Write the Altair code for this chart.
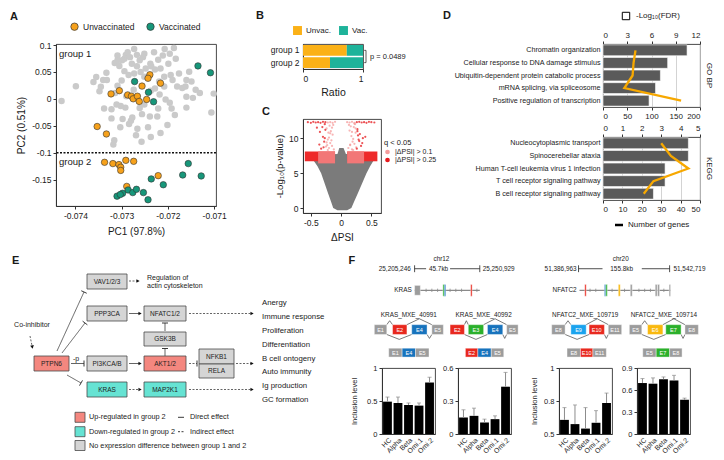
import math
import altair as alt
import pandas as pd

FONT = "Liberation Sans"
INK = "#1a1a1a"

A_ORANGE, A_GREEN, A_GRAY = "#F6A11B", "#17977A", "#CACACA"
B_ORANGE, B_TEAL = "#FBB117", "#1EB39A"
C_GRAY, C_LIGHT, C_DARK, C_BAND_LIGHT, C_BAND_DARK = "#7b7b7b", "#F59C9C", "#E6191D", "#F27777", "#EE2A2A"
D_BAR, D_LINE = "#5a5a5a", "#F7A800"
E_UP, E_DOWN, E_NONE = "#F4877F", "#66E3D3", "#D5D5D5"
F_GRAY, F_RED, F_BLUE, F_GREEN, F_SKY, F_YELLOW = "#9C9C9C", "#E8281E", "#1773BD", "#2BB02B", "#1AA3EE", "#F9B90F"

# ---------------- Panel A : PCA ----------------
a_gray_pc1 = [-0.07430, -0.07399, -0.07361, -0.07355, -0.07345, -0.07340, -0.07333, -0.07315, -0.07309, -0.07305,
              -0.07299, -0.07294, -0.07291, -0.07287, -0.07282, -0.07278, -0.07273, -0.07267, -0.07261, -0.07251,
              -0.07238, -0.07236, -0.07228, -0.07221, -0.07211, -0.07207, -0.07196, -0.07187, -0.07183, -0.07199,
              -0.07194, -0.07190, -0.07180, -0.07160, -0.07162, -0.07149, -0.07140, -0.07169, -0.07208, -0.07219,
              -0.07205, -0.07196, -0.07160, -0.07146, -0.07101, -0.07160, -0.07106, -0.07185, -0.07223, -0.07201,
              -0.07216, -0.07243, -0.07266, -0.07269, -0.07280, -0.07284, -0.07277, -0.07298, -0.07322, -0.07316,
              -0.07318, -0.07303, -0.07292, -0.07302, -0.07311, -0.07338, -0.07322, -0.07257, -0.07237, -0.07221,
              -0.07300, -0.07309, -0.07314, -0.07259, -0.07251, -0.07273, -0.07285, -0.07294, -0.07237, -0.07228,
              -0.07208, -0.07218, -0.07192, -0.07256, -0.07239, -0.07261, -0.07251, -0.07290, -0.07274, -0.07248,
              -0.07230, -0.07309, -0.07332, -0.07348, -0.07254, -0.07216, -0.07176, -0.07154, -0.07131, -0.07267]
a_gray_pc2 = [-0.0041, 0.0237, 0.0316, 0.0407, 0.0225, 0.0352, 0.0485, 0.0667, 0.0806, 0.0613,
              0.0716, 0.0746, 0.0818, 0.0867, 0.0776, 0.0655, 0.0927, 0.0818, 0.0716, 0.0837,
              0.0655, 0.0607, 0.0546, 0.0728, 0.0806, 0.0927, 0.0837, 0.0946, 0.0746, 0.0655,
              0.0443, 0.0352, 0.0231, 0.0352, 0.0231, 0.0322, 0.0171, 0.0201, 0.0231, 0.0322,
              -0.0011, -0.0071, 0.0038, 0.0019, 0.0098, -0.0162, -0.0253, -0.0301, -0.0326, -0.0483,
              -0.0634, -0.0525, -0.0556, -0.0677, -0.0404, -0.0465, -0.0344, -0.0374, -0.0362, -0.0768,
              -0.0846, -0.0525, -0.0162, -0.0132, -0.0102, -0.0180, -0.0192, -0.0798, -0.0707, -0.0180,
              0.0340, 0.0243, 0.0110, 0.0498, 0.0413, 0.0473, 0.0443, 0.0516, 0.0153, 0.0195,
              0.0413, 0.0080, -0.0180, -0.0283, -0.0326, -0.0168, -0.0102, 0.0050, 0.0171, 0.0564,
              0.0867, 0.0716, 0.0352, 0.0140, 0.0776, 0.0564, 0.0473, 0.0504, 0.0110, 0.0607]
a_unvac_pc1 = [-0.07239, -0.07243, -0.07216, -0.07256, -0.07323, -0.07305, -0.07287, -0.07279, -0.07275, -0.07266,
               -0.07262, -0.07246, -0.07353, -0.07333, -0.07337, -0.07319, -0.07306, -0.07302, -0.07291, -0.07274,
               -0.07302, -0.07221, -0.07289]
a_unvac_pc2 = [0.0449, 0.0383, 0.0292, 0.0238, 0.0093, 0.0153, 0.0074, 0.0050, 0.0002, 0.0050,
               -0.0047, -0.0010, -0.0513, -0.0652, -0.1178, -0.1202, -0.1220, -0.1269, -0.1142, -0.1160,
               -0.1329, -0.1426, -0.1626]
a_vac_pc1 = [-0.07272, -0.07242, -0.07231, -0.07135, -0.07108, -0.07156, -0.07168, -0.07128, -0.07236, -0.07210,
             -0.07310, -0.07298, -0.07286, -0.07276, -0.07268, -0.07253, -0.07243, -0.07303]
a_vac_pc2 = [0.0322, 0.0123, -0.0053, 0.0613, 0.0486, -0.1202, -0.1414, -0.1432, -0.1487, -0.1595,
             -0.1807, -0.1753, -0.1692, -0.1741, -0.1680, -0.1741, -0.1874, -0.1777]
a_threshold = -0.1

# ---------------- Panel B : ratio ----------------
b_groups = ["group 1", "group 2"]
b_unvac = [0.73, 0.45]
b_vac = [0.27, 0.55]
b_ptext = "p = 0.0489"

# ---------------- Panel C : volcano ----------------
c_env_logp = [-0.3, 0, 1, 2, 3, 4, 5, 6, 7, 7.6, 7.75, 8.6]
c_env_left = [-0.06, -0.13, -0.17, -0.21, -0.25, -0.29, -0.33, -0.39, -0.47, -0.55, -0.06, -0.03]
c_env_right = [0.10, 0.17, 0.22, 0.27, 0.32, 0.37, 0.42, 0.48, 0.55, 0.58, 0.08, 0.04]
c_band_x0 = [-0.60, 0.10, -0.38, 0.10]
c_band_x1 = [-0.10, 0.60, -0.10, 0.38]
c_band_y0 = [6.7, 6.7, 6.4, 6.4]
c_band_y1 = [8.1, 8.1, 8.1, 8.1]
c_band_kind = ["dark", "dark", "light", "light"]
c_sig_dpsi = [-0.12, -0.15, -0.18, -0.20, -0.22, -0.25, -0.28, -0.30, -0.33, -0.36, -0.14, -0.17, -0.21, -0.24, -0.27,
              -0.19, -0.23, -0.16, -0.26, -0.31, -0.13, -0.20, -0.29, -0.18, -0.24, -0.35, -0.40, -0.15, -0.22, -0.27,
              0.12, 0.15, 0.18, 0.20, 0.22, 0.25, 0.28, 0.30, 0.33, 0.36, 0.14, 0.17, 0.21, 0.24, 0.27,
              0.19, 0.23, 0.16, 0.26, 0.31, 0.13, 0.20, 0.29, 0.18, 0.24, 0.35, 0.40, 0.15, 0.22, 0.27,
              -0.55, -0.50, -0.46, -0.42, -0.38, -0.34, -0.30, -0.26, -0.22, -0.18, -0.14, -0.10,
              0.10, 0.14, 0.18, 0.22, 0.26, 0.30, 0.34, 0.38, 0.42, 0.46, 0.50, 0.55]
c_sig_logp = [8.4, 8.9, 9.3, 8.6, 9.8, 8.8, 9.5, 10.2, 8.5, 9.1, 10.5, 11.0, 10.8, 11.4, 10.0,
              11.8, 9.0, 9.7, 11.2, 11.6, 11.9, 10.1, 8.7, 10.7, 9.4, 10.9, 11.5, 11.5, 8.3, 12.0,
              8.6, 9.1, 8.4, 9.9, 9.2, 8.7, 10.4, 9.6, 8.9, 10.0, 11.1, 10.3, 11.6, 10.8, 11.3,
              9.5, 12.0, 11.7, 8.5, 10.6, 11.9, 8.3, 9.8, 10.9, 11.4, 9.3, 10.2, 9.0, 12.1, 11.0,
              12.3, 12.2, 12.35, 12.25, 12.3, 12.2, 12.35, 12.3, 12.25, 12.3, 12.2, 12.35,
              12.3, 12.25, 12.35, 12.2, 12.3, 12.35, 12.25, 12.3, 12.2, 12.35, 12.3, 12.25]

# ---------------- Panel D : enrichment ----------------
d_go_terms = ["Chromatin organization", "Cellular response to DNA damage stimulus",
              "Ubiquitin-dependent protein catabolic process", "mRNA splicing, via spliceosome",
              "Positive regulation of transcription"]
d_go_fdr = [10.4, 8.0, 7.1, 6.5, 5.7]
d_go_genes = [67, 63, 61, 44, 161]
d_kegg_terms = ["Nucleocytoplasmic transport", "Spinocerebellar ataxia", "Human T-cell leukemia virus 1 infection",
                "T cell receptor signaling pathway", "B cell receptor signaling pathway"]
d_kegg_fdr = [4.4, 4.4, 3.2, 3.2, 2.6]
d_kegg_genes = [30, 35, 44, 26, 21]

# ---------------- Panel E : pathway diagram (layout table) ----------------
e_node_name = ["VAV1/2/3", "PPP3CA", "NFATC1/2", "GSK3B", "PTPN6", "PI3KCA/B", "AKT1/2", "NFKB1", "RELA", "KRAS", "MAP2K1"]
e_node_state = ["none", "none", "none", "none", "up", "none", "up", "none", "none", "down", "down"]
e_node_x0 = [79, 79, 136, 136, 26, 79, 136, 191, 191, 79, 136]
e_node_x1 = [119, 119, 178, 178, 61, 119, 178, 226, 226, 119, 178]
e_node_y0 = [271, 303, 303, 329, 353, 353, 353, 346, 361, 379, 379]
e_node_y1 = [286, 318, 318, 343, 368, 368, 368, 361, 375, 394, 394]
e_edge_x1 = [121, 121, 181, 63, 121, 181, 228, 121, 181, 49, 54, 59, 22, 157, 157]
e_edge_y1 = [278, 310.5, 310.5, 360.5, 360.5, 360.5, 360.5, 386.5, 386.5, 348, 350, 372, 333, 353, 328]
e_edge_x2 = [131, 133, 245, 76, 133, 189, 245, 133, 245, 76, 77, 73, 24.5, 157, 157]
e_edge_y2 = [278, 310.5, 310.5, 360.5, 360.5, 360.5, 360.5, 386.5, 386.5, 289, 320, 380, 345, 345.5, 320]
e_edge_style = ["dashed", "solid", "dashed", "solid", "solid", "dashed", "dashed", "dashed", "dashed",
                "solid", "solid", "solid", "dashed", "solid", "solid"]
e_edge_head = ["arrow", "arrow", "arrow", "bar", "arrow", "bar", "arrow", "arrow", "arrow",
               "bar", "bar", "bar", "arrow", "bar", "bar"]
e_out_label = ["Anergy", "Immune response", "Proliferation", "Differentiation", "B cell ontogeny",
               "Auto immunity", "Ig production", "GC formation"]
e_out_y = [300, 314, 327.7, 341.7, 355.7, 369.3, 383.3, 397]
e_txt_label = ["-p", "Co-inhibitor", "Regulation of", "actin cytoskeleton"]
e_txt_x = [68, 24, 139, 139]
e_txt_y = [355.5, 322, 275, 283]
e_leg_state = ["up", "down", "none"]
e_leg_label = ["Up-regulated in group 2", "Down-regulated in group 2", "No expression difference between group 1 and 2"]
e_leg_y = [414.3, 428.7, 442.5]
e_eff_label = ["Direct effect", "Indirect effect"]
e_eff_style = ["solid", "dashed"]
e_eff_y = [414.3, 428.7]

# ---------------- Panel F : gene structures (layout table) ----------------
f_text_label = ["chr12", "25,205,246", "45.7kb", "25,250,929", "KRAS", "chr20", "51,386,963", "155.8kb",
                "51,542,719", "NFATC2", "KRAS_MXE_40991", "KRAS_MXE_40992", "NFATC2_MXE_109719", "NFATC2_MXE_109714"]
f_text_x = [449, 417, 446, 492, 418, 636, 590, 637, 691, 590, 415, 493, 599, 681]
f_text_y = [261, 271, 271, 271, 293, 261, 271, 271, 271, 293, 318, 318, 318, 318]
f_text_align = ["center", "right", "center", "left", "right", "center", "right", "center", "left", "right",
                "center", "center", "center", "center"]
f_scale_x1 = [421, 458, 592, 658]
f_scale_x2 = [433, 489, 617, 687]
f_scale_end = [421, 489, 592, 687]
f_gene_x1 = [421, 593]
f_gene_x2 = [489, 688]
f_intron_x = [433, 439, 445, 458, 464, 470, 486, 604, 610, 627, 640, 655, 661, 667, 681]
f_mark_x0 = [421, 450.5, 452, 479.5, 598.5, 619, 620.5, 633.5, 646, 672, 674.5, 686.5]
f_mark_x1 = [427, 452, 453.5, 481, 600, 620.5, 622, 635.5, 648, 674, 676.5, 688]
f_mark_col = [F_GRAY, F_GREEN, F_BLUE, F_RED, F_RED, F_BLUE, F_GREEN, F_YELLOW, F_GRAY, F_GRAY, F_GRAY, F_GRAY]
f_exon_event = [1, 1, 1, 1, 2, 2, 2, 2, 3, 3, 3, 3, 4, 4, 4, 4,
                1, 1, 1, 2, 2, 2, 3, 3, 3, 4, 4, 4]
f_exon_row = ["big"] * 16 + ["small"] * 12
f_exon_label = ["E1", "E2", "E4", "E5", "E2", "E3", "E4", "E5", "E8", "E9", "E10", "E11", "E5", "E6", "E7", "E8",
                "E1", "E4", "E5", "E2", "E4", "E5", "E8", "E10", "E11", "E5", "E7", "E8"]
f_exon_col = [F_GRAY, F_RED, F_BLUE, F_GRAY, F_RED, F_GREEN, F_BLUE, F_GRAY, F_GRAY, F_SKY, F_RED, F_GRAY,
              F_GRAY, F_YELLOW, F_GREEN, F_GRAY,
              F_GRAY, F_BLUE, F_GRAY, F_RED, F_BLUE, F_GRAY, F_GRAY, F_RED, F_GRAY, F_GRAY, F_GREEN, F_GRAY]
f_exon_x0 = [379, 398, 418, 439, 458, 477, 497, 517, 564, 584, 603, 623, 645, 664, 683, 703,
             394, 408, 422, 474, 487, 501, 580, 594, 607, 659, 673, 687]
f_exon_x1 = [392, 413, 434, 451, 473, 493, 513, 529, 578, 600, 619, 637, 658, 680, 699, 717,
             408, 422, 436, 487, 501, 514, 594, 607, 621, 673, 687, 700]

# ---------------- Panel F : inclusion levels ----------------
f_conds = ["HC", "Alpha", "Beta", "Omi.1", "Omi.2"]
f_ev1_mean = [0.49, 0.47, 0.44, 0.43, 0.78]
f_ev1_sd = [0.07, 0.09, 0.03, 0.04, 0.08]
f_ev2_mean = [0.15, 0.165, 0.105, 0.135, 0.43]
f_ev2_sd = [0.07, 0.07, 0.03, 0.03, 0.13]
f_ev3_mean = [0.607, 0.575, 0.541, 0.585, 0.735]
f_ev3_sd = [0.093, 0.145, 0.159, 0.092, 0.075]
f_ev4_mean = [0.695, 0.686, 0.747, 0.73, 0.467]
f_ev4_sd = [0.061, 0.079, 0.031, 0.07, 0.022]

MINUS_FIX = "replace(datum.label, '\u2212', '-')"


def label(txt, x, y, size=8.0, align="left", baseline="middle", weight="normal", angle=0, color=INK, style="normal"):
    kw = dict(align=align, baseline=baseline, fontSize=size, fontWeight=weight, color=color, font=FONT)
    if angle:
        kw["angle"] = angle
    if style != "normal":
        kw["fontStyle"] = style
    return alt.Chart(pd.DataFrame({"t": [txt]})).mark_text(**kw).encode(
        x=alt.value(x), y=alt.value(y), text="t:N")


# ======================= Panel A =======================
AW, AH = 160, 162
dfa_gray = pd.DataFrame(list(zip(a_gray_pc1, a_gray_pc2)), columns=["pc1", "pc2"])
dfa_col = pd.DataFrame(
    list(zip(a_unvac_pc1, a_unvac_pc2, ["Unvaccinated"] * len(a_unvac_pc1))) +
    list(zip(a_vac_pc1, a_vac_pc2, ["Vaccinated"] * len(a_vac_pc1))), columns=["pc1", "pc2", "status"])
xA = alt.X("pc1:Q", title="PC1 (97.8%)", scale=alt.Scale(domain=[-0.07442, -0.07096], nice=False, zero=False),
           axis=alt.Axis(values=[-0.074, -0.073, -0.072, -0.071], format=".3f", labelExpr=MINUS_FIX,
                         titlePadding=7, labelFontSize=8.5, titleFontSize=10))
yA = alt.Y("pc2:Q", title="PC2 (0.51%)", scale=alt.Scale(domain=[-0.199, 0.102], nice=False, zero=False),
           axis=alt.Axis(values=[0.1, 0.05, 0, -0.05, -0.1, -0.15], format="~g", labelExpr=MINUS_FIX,
                         titlePadding=5, labelFontSize=8.5, titleFontSize=10))
a_gray = alt.Chart(dfa_gray).mark_circle(size=42, color=A_GRAY, opacity=1).encode(x=xA, y=yA)
a_rule = alt.Chart(pd.DataFrame({"pc2": [a_threshold]})).mark_rule(
    strokeDash=[2, 1.5], strokeWidth=1.4, color="#111").encode(y=yA)
a_col = alt.Chart(dfa_col).mark_point(filled=True, size=42, stroke="#333", strokeWidth=0.6, opacity=1).encode(
    x=xA, y=yA,
    fill=alt.Fill("status:N", scale=alt.Scale(domain=["Unvaccinated", "Vaccinated"], range=[A_ORANGE, A_GREEN]),
                  legend=alt.Legend(title=None, orient="none", legendX=14, legendY=-22, direction="horizontal",
                                    symbolType="circle", symbolSize=55, symbolStrokeColor="#333",
                                    symbolStrokeWidth=0.7, labelFontSize=8.5, columnPadding=10)))
chartA = alt.layer(
    a_gray, a_rule, a_col,
    label("group 1", 3, 10, size=9.5),
    label("group 2", 3, 118, size=9.5),
    label("A", -46, -27, size=11, weight="bold"),
).properties(width=AW, height=AH)

# ======================= Panel B =======================
BW, BH = 60, 25
dfb = pd.DataFrame({"group": b_groups + b_groups, "status": ["Unvac."] * 2 + ["Vac."] * 2,
                    "ratio": b_unvac + b_vac, "ord": [0, 0, 1, 1]})
yB = alt.Y("group:N", sort=b_groups, title=None, scale=alt.Scale(paddingInner=0.12, paddingOuter=0.08),
           axis=alt.Axis(ticks=False, labelFontSize=8.5, labelPadding=4))
b_bars = alt.Chart(dfb).mark_bar().encode(
    y=yB,
    x=alt.X("ratio:Q", stack="zero", title="Ratio", scale=alt.Scale(domain=[0, 1], nice=False),
            axis=alt.Axis(values=[0, 0.25, 0.5, 0.75, 1], format="~g",
                          labelExpr="(datum.value == 0.25 || datum.value == 0.75) ? '' : datum.label",
                          titleFontSize=10.5, labelFontSize=8.5, titlePadding=5)),
    fill=alt.Fill("status:N", scale=alt.Scale(domain=["Unvac.", "Vac."], range=[B_ORANGE, B_TEAL]),
                  legend=alt.Legend(title=None, orient="none", legendX=-10, legendY=-18, direction="horizontal",
                                    symbolType="square", symbolSize=80, labelFontSize=8, columnPadding=8,
                                    symbolStrokeWidth=0)),
    order=alt.Order("ord:Q"))
dfbr = pd.DataFrame({"group": b_groups, "x0": [1.02, 1.02], "x1": [1.05, 1.05]})
b_ticks = alt.Chart(dfbr).mark_rule(color="#333", strokeWidth=0.8).encode(x="x0:Q", x2="x1:Q", y=yB)
b_vert = alt.Chart(dfbr).mark_line(color="#333", strokeWidth=0.8).encode(x="x1:Q", y=yB)
chartB = alt.layer(
    b_bars, b_ticks, b_vert,
    label(b_ptext, BW + 7, BH / 2, size=7.5),
    label("B", -47, -28, size=11, weight="bold"),
).properties(width=BW, height=BH)

# ======================= Panel C =======================
CW, CH = 78, 94
xsc_C = alt.Scale(domain=[-0.63, 0.66], nice=False, zero=False)
ysc_C = alt.Scale(domain=[-0.7, 12.75], nice=False, zero=False)
xax_C = alt.Axis(values=[-0.5, 0, 0.5], format="~g", labelExpr=MINUS_FIX, titleFontSize=10, labelFontSize=8.5,
                 titlePadding=6)
yax_C = alt.Axis(values=[0, 5, 10], titleFontSize=9.5, labelFontSize=8.5, titlePadding=4)


def xC(f):
    return alt.X(f, title="\u0394PSI", scale=xsc_C, axis=xax_C)


def yC(f):
    return alt.Y(f, title="-Log\u2081\u2080(p-value)", scale=ysc_C, axis=yax_C)


dfc_env = pd.DataFrame(list(zip(c_env_logp, c_env_left, c_env_right)), columns=["lp", "lo", "hi"])
dfc_band = pd.DataFrame({"x0": c_band_x0, "x1": c_band_x1, "y0": c_band_y0, "y1": c_band_y1, "kind": c_band_kind})
dfc_sig = pd.DataFrame(list(zip(c_sig_dpsi, c_sig_logp)), columns=["dpsi", "lp"])
dfc_sig["cat"] = ["|\u0394PSI| > 0.25" if abs(v) > 0.25 else "|\u0394PSI| > 0.1" for v in dfc_sig["dpsi"]]
c_env = alt.Chart(dfc_env).mark_area(color=C_GRAY, orient="horizontal", opacity=1).encode(
    y=yC("lp:Q"), x=xC("lo:Q"), x2="hi:Q")
c_band_d = alt.Chart(dfc_band).transform_filter(alt.datum.kind == "dark").mark_rect(color=C_BAND_DARK).encode(
    x=xC("x0:Q"), x2="x1:Q", y=yC("y0:Q"), y2="y1:Q")
c_band_l = alt.Chart(dfc_band).transform_filter(alt.datum.kind == "light").mark_rect(color=C_BAND_LIGHT).encode(
    x=xC("x0:Q"), x2="x1:Q", y=yC("y0:Q"), y2="y1:Q")
c_pts = alt.Chart(dfc_sig).mark_circle(size=5, opacity=0.75).encode(
    x=xC("dpsi:Q"), y=yC("lp:Q"),
    color=alt.Color("cat:N", scale=alt.Scale(domain=["|\u0394PSI| > 0.1", "|\u0394PSI| > 0.25"],
                                             range=[C_LIGHT, C_DARK]),
                    legend=alt.Legend(title="q < 0.05", orient="none", legendX=CW + 3, legendY=20,
                                      symbolType="circle", symbolSize=22, symbolOpacity=1, labelFontSize=7,
                                      titleFontSize=7.5, titleFontWeight="normal", rowPadding=0, titlePadding=2)))
chartC = alt.layer(
    c_env, c_band_d, c_band_l, c_pts,
    label("C", -41, -7, size=11, weight="bold"),
).properties(width=CW, height=CH)

# ======================= Panel D =======================
DW, DH = 97, 63


def panel_d(terms, fdr, genes, fdr_dom, fdr_ticks, gene_dom, gene_ticks, side, extras):
    df = pd.DataFrame({"term": terms, "fdr": fdr, "genes": genes, "idx": list(range(len(terms)))})
    yD = alt.Y("term:N", sort=terms, title=None, scale=alt.Scale(paddingInner=0.14, paddingOuter=0.07),
               axis=alt.Axis(ticks=False, labelFontSize=7.2, labelPadding=3, labelLimit=260, domain=False))
    bars = alt.Chart(df).mark_bar(color=D_BAR, stroke="white", strokeWidth=0.6).encode(
        x=alt.X("fdr:Q", title=None, scale=alt.Scale(domain=fdr_dom, nice=False),
                axis=alt.Axis(orient="top", values=fdr_ticks, grid=True, gridColor="#c8c8c8", gridWidth=0.8,
                              labelFontSize=8, domain=False)),
        y=yD)
    line = alt.Chart(df).mark_line(color=D_LINE, strokeWidth=2.3).encode(
        x=alt.X("genes:Q", title=None, scale=alt.Scale(domain=gene_dom, nice=False),
                axis=alt.Axis(orient="bottom", values=gene_ticks, grid=False, labelFontSize=8, domain=False)),
        y=yD, order=alt.Order("idx:Q"))
    layers = [bars, line, label(side, DW + 9, DH / 2, size=8, align="center", angle=90)] + extras
    return alt.layer(*layers).resolve_scale(x="independent").properties(width=DW, height=DH)


d_sq = alt.Chart(pd.DataFrame({"t": ["sq"]})).mark_point(
    shape="square", fill="white", stroke="black", strokeWidth=1, size=55, opacity=1, filled=False).encode(
    x=alt.value(23), y=alt.value(-28))
chartD1 = panel_d(d_go_terms, d_go_fdr, d_go_genes, [0, 12], [0, 3, 6, 9, 12], [0, 200], [0, 50, 100, 150, 200],
                  "GO  BP",
                  [d_sq, label("-Log\u2081\u2080(FDR)", 33, -28, size=8),
                   label("D", -160, -28, size=11, weight="bold")])
d_ln = alt.Chart(pd.DataFrame({"t": ["ln"]})).mark_rule(color="black", strokeWidth=2.5).encode(
    x=alt.value(12), x2=alt.value(20), y=alt.value(DH + 25))
chartD2 = panel_d(d_kegg_terms, d_kegg_fdr, d_kegg_genes, [0, 5], [0, 1, 2, 3, 4, 5], [0, 50],
                  [0, 10, 20, 30, 40, 50], "KEGG",
                  [d_ln, label("Number of genes", 25, DH + 25, size=8)])

# ======================= Panel E =======================
# plot origin sits at x=48 of the diagram so the row's left edge lines up with panel A's origin
EX0, EX1, EY0, EY1 = 48, 334, 251, 449
EW, EH = EX1 - EX0, EY1 - EY0
esx = alt.Scale(domain=[EX0, EX1], nice=False, zero=False)
esy = alt.Scale(domain=[EY0, EY1], nice=False, zero=False, reverse=True)


def xE(f):
    return alt.X(f, scale=esx, axis=None)


def yE(f):
    return alt.Y(f, scale=esy, axis=None)


dash_enc = alt.StrokeDash("style:N", scale=alt.Scale(domain=["solid", "dashed"], range=[[1, 0], [2, 1.5]]),
                          legend=None)
state_fill = alt.Fill("state:N", scale=alt.Scale(domain=["up", "down", "none"], range=[E_UP, E_DOWN, E_NONE]),
                      legend=None)

edges = pd.DataFrame({"x1": e_edge_x1, "y1": e_edge_y1, "x2": e_edge_x2, "y2": e_edge_y2,
                      "style": e_edge_style, "head": e_edge_head})
ln_ = ((edges.x2 - edges.x1) ** 2 + (edges.y2 - edges.y1) ** 2) ** 0.5
edges["ux"] = (edges.x2 - edges.x1) / ln_
edges["uy"] = (edges.y2 - edges.y1) / ln_
edges["ang"] = [math.degrees(math.atan2(u, -v)) % 360 for u, v in zip(edges.ux, edges.uy)]
edges["ax"] = edges.x2 - edges.ux * 1.5
edges["ay"] = edges.y2 - edges.uy * 1.5
edges["bx1"] = edges.x2 - edges.uy * 3
edges["by1"] = edges.y2 + edges.ux * 3
edges["bx2"] = edges.x2 + edges.uy * 3
edges["by2"] = edges.y2 - edges.ux * 3

nodes = pd.DataFrame({"name": e_node_name, "state": e_node_state, "x0": e_node_x0, "x1": e_node_x1,
                      "y0": e_node_y0, "y1": e_node_y1})
nodes["cx"] = (nodes.x0 + nodes.x1) / 2
nodes["cy"] = (nodes.y0 + nodes.y1) / 2
e_misc = pd.DataFrame({"t": e_txt_label, "x": e_txt_x, "y": e_txt_y})
e_out = pd.DataFrame({"t": e_out_label, "y": e_out_y})
e_out["x"] = 254
e_leg = pd.DataFrame({"state": e_leg_state, "t": e_leg_label, "y": e_leg_y})
e_leg["y0"] = e_leg.y - 5
e_leg["y1"] = e_leg.y + 5
e_leg["x0"] = 67
e_leg["x1"] = 77
e_leg["tx"] = 81
e_eff = pd.DataFrame({"t": e_eff_label, "style": e_eff_style, "y": e_eff_y})
e_eff["x0"] = 170
e_eff["x1"] = 176
e_eff["tx"] = 182

e_layers = [
    alt.Chart(edges).mark_rule(color="#222", strokeWidth=0.7).encode(
        x=xE("x1:Q"), y=yE("y1:Q"), x2="x2:Q", y2="y2:Q", strokeDash=dash_enc),
    alt.Chart(edges).transform_filter(alt.datum.head == "bar").mark_rule(color="#222", strokeWidth=0.9).encode(
        x=xE("bx1:Q"), y=yE("by1:Q"), x2="bx2:Q", y2="by2:Q"),
    alt.Chart(edges).transform_filter(alt.datum.head == "arrow").mark_point(
        shape="triangle", filled=True, color="#111", size=14, opacity=1).encode(
        x=xE("ax:Q"), y=yE("ay:Q"), angle=alt.Angle("ang:Q", scale=None)),
    alt.Chart(nodes).mark_rect(stroke="#4a4a4a", strokeWidth=0.8).encode(
        x=xE("x0:Q"), x2="x1:Q", y=yE("y0:Q"), y2="y1:Q", fill=state_fill),
    alt.Chart(nodes).mark_text(fontSize=6.5, color="#222", font=FONT).encode(
        x=xE("cx:Q"), y=yE("cy:Q"), text="name:N"),
    alt.Chart(e_misc).transform_filter(alt.datum.x < 100).mark_text(fontSize=7, color="#222", font=FONT).encode(
        x=xE("x:Q"), y=yE("y:Q"), text="t:N"),
    alt.Chart(e_misc).transform_filter(alt.datum.x > 100).mark_text(fontSize=7, color="#222", font=FONT,
                                                                    align="left").encode(
        x=xE("x:Q"), y=yE("y:Q"), text="t:N"),
    alt.Chart(e_out).mark_text(fontSize=7.8, color="#222", font=FONT, align="left").encode(
        x=xE("x:Q"), y=yE("y:Q"), text="t:N"),
    alt.Chart(e_leg).mark_rect(stroke="#4a4a4a", strokeWidth=0.8).encode(
        x=xE("x0:Q"), x2="x1:Q", y=yE("y0:Q"), y2="y1:Q", fill=state_fill),
    alt.Chart(e_leg).mark_text(fontSize=7.3, color="#222", font=FONT, align="left").encode(
        x=xE("tx:Q"), y=yE("y:Q"), text="t:N"),
    alt.Chart(e_eff).mark_rule(color="#222", strokeWidth=0.9).encode(
        x=xE("x0:Q"), x2="x1:Q", y=yE("y:Q"), strokeDash=dash_enc),
    alt.Chart(e_eff).mark_text(fontSize=7.3, color="#222", font=FONT, align="left").encode(
        x=xE("tx:Q"), y=yE("y:Q"), text="t:N"),
    label("E", 4 - EX0, 7, size=11, weight="bold"),
]
chartE = alt.layer(*e_layers).properties(width=EW, height=EH, view=alt.ViewBackground(stroke="transparent"))

# ======================= Panel F structure =======================
# plot origin sits at the first inclusion-level chart (x=387); text to its left overflows
FK = 0.96
FX0, FX1, FY0, FY1 = 387, 726, 256, 364
FW, FH = int(round((FX1 - FX0) * FK)), 106
fsx = alt.Scale(domain=[FX0, FX1], nice=False, zero=False)
fsy = alt.Scale(domain=[FY0, FY1], nice=False, zero=False, reverse=True)


def xF(f):
    return alt.X(f, scale=fsx, axis=None)


def yF(f):
    return alt.Y(f, scale=fsy, axis=None)


BIG_Y0, BIG_Y1, SM_Y0, SM_Y1 = 328, 338, 352, 361
f_txt = pd.DataFrame({"t": f_text_label, "x": f_text_x, "y": f_text_y, "al": f_text_align})
f_scl = pd.DataFrame({"x1": f_scale_x1, "x2": f_scale_x2})
f_scl["y"] = 271
f_end = pd.DataFrame({"x": f_scale_end})
f_end["y1"] = 267.5
f_end["y2"] = 274.5
f_gen = pd.DataFrame({"x1": f_gene_x1, "x2": f_gene_x2})
f_gen["y"] = 293
f_intr = pd.DataFrame({"x": f_intron_x})
f_intr["y1"] = 291.3
f_intr["y2"] = 294.7
f_rects = pd.DataFrame({"x0": f_mark_x0, "x1": f_mark_x1, "col": f_mark_col, "t": [""] * len(f_mark_x0)})
f_rects["y0"] = [288 if c == F_GRAY and (x1 - x0) > 3 else 287 for c, x0, x1 in zip(f_mark_col, f_mark_x0, f_mark_x1)]
f_rects["y1"] = [298 if c == F_GRAY and (x1 - x0) > 3 else 299 for c, x0, x1 in zip(f_mark_col, f_mark_x0, f_mark_x1)]
exons = pd.DataFrame({"ev": f_exon_event, "row": f_exon_row, "t": f_exon_label, "col": f_exon_col,
                      "x0": f_exon_x0, "x1": f_exon_x1})
exons["y0"] = [BIG_Y0 if r == "big" else SM_Y0 for r in exons.row]
exons["y1"] = [BIG_Y1 if r == "big" else SM_Y1 for r in exons.row]
exons["cx"] = (exons.x0 + exons.x1) / 2
exons["cy"] = (exons.y0 + exons.y1) / 2
all_rects = pd.concat([f_rects, exons[["x0", "x1", "y0", "y1", "col", "t"]]], ignore_index=True)

jrows = []
for ev in [1, 2, 3, 4]:
    ex = exons[(exons.ev == ev) & (exons.row == "big")].sort_values("x0").to_dict("records")
    a, b, c, d = ex
    arcs = [(a["x1"], b["x0"], BIG_Y0, BIG_Y0 - 4), (b["x1"], d["x0"], BIG_Y0, BIG_Y0 - 6),
            (a["x1"], c["x0"], BIG_Y1, BIG_Y1 + 5), (c["x1"], d["x0"], BIG_Y1, BIG_Y1 + 4)]
    for k, (s, e, yb, yp) in enumerate(arcs):
        sid = "%d-%d" % (ev, k)
        jrows += [dict(seg=sid, o=0, x=s, y=yb), dict(seg=sid, o=1, x=(s + e) / 2, y=yp),
                  dict(seg=sid, o=2, x=e, y=yb)]
f_junc = pd.DataFrame(jrows)

f_layers = [
    alt.Chart(f_gen).mark_rule(color="#8a8a8a", strokeWidth=1.3).encode(x=xF("x1:Q"), x2="x2:Q", y=yF("y:Q")),
    alt.Chart(f_intr).mark_rule(color="#8a8a8a", strokeWidth=0.8).encode(x=xF("x:Q"), y=yF("y1:Q"), y2="y2:Q"),
    alt.Chart(f_scl).mark_rule(color="#222", strokeWidth=0.8).encode(x=xF("x1:Q"), x2="x2:Q", y=yF("y:Q")),
    alt.Chart(f_end).mark_rule(color="#222", strokeWidth=0.8).encode(x=xF("x:Q"), y=yF("y1:Q"), y2="y2:Q"),
    alt.Chart(f_junc).mark_line(color="#444", strokeWidth=0.7).encode(
        x=xF("x:Q"), y=yF("y:Q"), detail="seg:N", order=alt.Order("o:Q")),
    alt.Chart(all_rects).mark_rect(stroke="white", strokeWidth=0.4).encode(
        x=xF("x0:Q"), x2="x1:Q", y=yF("y0:Q"), y2="y1:Q", fill=alt.Fill("col:N", scale=None)),
    alt.Chart(exons).mark_text(fontSize=5.5, color="white", font=FONT).encode(
        x=xF("cx:Q"), y=yF("cy:Q"), text="t:N"),
]
for al in ["left", "center", "right"]:
    f_layers.append(alt.Chart(f_txt).transform_filter(alt.datum.al == al).mark_text(
        fontSize=6.4, color="#222", font=FONT, align=al).encode(x=xF("x:Q"), y=yF("y:Q"), text="t:N"))
f_layers.append(label("F", (352 - FX0) * FK, 7, size=11, weight="bold"))
chartFs = alt.layer(*f_layers).properties(width=FW, height=FH, view=alt.ViewBackground(stroke="transparent"))

# ======================= Panel F bars =======================
FBW, FBH = 53, 66


def incl_chart(means, sds, dom, ticks, title, tpad=5):
    df = pd.DataFrame({"cond": f_conds, "m": means, "sd": sds})
    df["hi"] = df["m"] + df["sd"]
    xx = alt.X("cond:N", sort=f_conds, title=None, scale=alt.Scale(paddingInner=0.16, paddingOuter=0.1),
               axis=alt.Axis(labelAngle=-45, labelFontSize=7, ticks=False, labelPadding=2))
    ysc = alt.Scale(domain=dom, nice=False, zero=False)
    yax = alt.Axis(values=ticks, format="~g", labelFontSize=7.5, titleFontSize=7.5, titlePadding=tpad)
    bars = alt.Chart(df).mark_bar(color="black").encode(
        x=xx, y=alt.Y("m:Q", title=title, scale=ysc, axis=yax), y2=alt.datum(dom[0]))
    err = alt.Chart(df).mark_rule(color="#8c8c8c", strokeWidth=1).encode(
        x=xx, y=alt.Y("m:Q", title=title, scale=ysc, axis=yax), y2="hi:Q")
    cap = alt.Chart(df).mark_tick(color="#8c8c8c", thickness=1, size=4).encode(
        x=xx, y=alt.Y("hi:Q", title=title, scale=ysc, axis=yax))
    return alt.layer(bars, err, cap).properties(width=FBW, height=FBH)


fb1 = incl_chart(f_ev1_mean, f_ev1_sd, [0, 1], [0, 0.5, 1], "Inclusion level", tpad=8)
fb2 = incl_chart(f_ev2_mean, f_ev2_sd, [0, 0.6], [0, 0.3, 0.6], None)
fb3 = incl_chart(f_ev3_mean, f_ev3_sd, [0.5, 1], [0.5, 0.75, 1], "Inclusion level")
fb4 = incl_chart(f_ev4_mean, f_ev4_sd, [0, 0.9], [0, 0.3, 0.6, 0.9], None)


def ind(c):
    return c.resolve_scale(color="independent", fill="independent", strokeDash="independent")


col_bc = ind(alt.vconcat(chartB, chartC, spacing=6))
col_d = ind(alt.vconcat(chartD1, chartD2, spacing=2))
top_row = ind(alt.concat(chartA, ind(alt.concat(col_bc, col_d, columns=2, spacing=4, align="none")),
                         columns=2, spacing=28, align="none"))
bars_row = ind(alt.concat(ind(alt.concat(fb1, fb2, columns=2, spacing=6, align="none")),
                          ind(alt.concat(fb3, fb4, columns=2, spacing=8, align="none")),
                          columns=2, spacing=18, align="none"))
col_f = ind(alt.concat(chartFs, bars_row, columns=1, spacing=2, align="none"))
bottom_row = ind(alt.concat(chartE, col_f, columns=2, spacing=4, align="none"))
chart = ind(alt.concat(top_row, bottom_row, columns=1, spacing=10, align="none")).properties(padding=1)

chart = chart.configure(font=FONT).configure_view(stroke="#333", strokeWidth=0.9).configure_axis(
    labelFont=FONT, titleFont=FONT, labelFontSize=8, titleFontSize=9.5, titleFontWeight="normal",
    labelColor=INK, titleColor=INK, tickColor="#333", domainColor="#333", tickSize=3, grid=False
).configure_legend(labelFont=FONT, titleFont=FONT, labelColor=INK, titleColor=INK).configure_text(font=FONT)

chart.save("out.html", embed_options={"renderer": "svg", "actions": False})
